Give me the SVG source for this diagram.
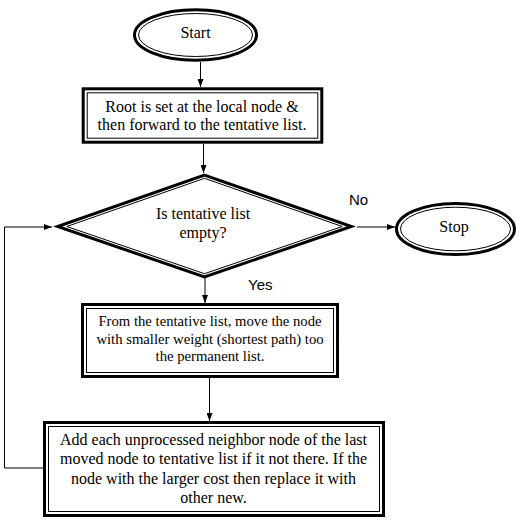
<svg xmlns="http://www.w3.org/2000/svg" width="520" height="521" viewBox="0 0 520 521">
  <defs>
    <style>
      .thick { fill: none; stroke: #000; stroke-width: 3; }
      .thin { fill: none; stroke: #000; stroke-width: 1; }
      .bg { fill: #fff; stroke: none; }
      .t { font-family: "Liberation Serif", "Times New Roman", serif; font-size: 16px; fill: #000; text-anchor: middle; }
      .t2 { font-family: "Liberation Serif", "Times New Roman", serif; font-size: 14.7px; fill: #000; text-anchor: middle; }
      .lbl { font-family: "Liberation Sans", Arial, sans-serif; font-size: 15px; fill: #000; }
      .conn { fill: none; stroke: #000; stroke-width: 1; }
    </style>
    <marker id="arrow" viewBox="0 0 8 6" refX="8" refY="3" markerWidth="8" markerHeight="6" markerUnits="userSpaceOnUse" orient="auto">
      <path d="M0,0 L8,3 L0,6 Z" fill="#000"/>
    </marker>
  </defs>
  <rect x="0" y="0" width="520" height="521" fill="#fff"/>

  <g id="connectors">
    <path class="conn" d="M200.5,62 V87" marker-end="url(#arrow)"/>
    <path class="conn" d="M203.5,144 V173" marker-end="url(#arrow)"/>
    <path class="conn" d="M205,278 V303" marker-end="url(#arrow)"/>
    <path class="conn" d="M209.5,378 V421" marker-end="url(#arrow)"/>
    <path class="conn" d="M357,227 H395" marker-end="url(#arrow)"/>
    <path class="conn" d="M43,468 H4.5 V227 H52" marker-end="url(#arrow)"/>
    <text class="lbl" x="349" y="205">No</text>
    <text class="lbl" x="248" y="290">Yes</text>
  </g>

  <g id="start">
    <ellipse class="bg" cx="195.5" cy="35" rx="61" ry="25.2"/>
    <ellipse class="thick" cx="195.5" cy="35" rx="61" ry="25.2"/>
    <ellipse class="thin" cx="195.5" cy="35" rx="57" ry="21.5"/>
    <text class="t" x="195.5" y="37.5">Start</text>
  </g>

  <g id="root">
    <rect class="bg" x="83.2" y="88.8" width="238.6" height="53.4"/>
    <rect class="thick" x="83.2" y="88.8" width="238.6" height="53.4"/>
    <rect class="thin" x="87.2" y="92.8" width="230.6" height="45.4"/>
    <text class="t" x="202" y="112">Root is set at the local node &amp;</text>
    <text class="t" x="202" y="130">then forward to the tentative list.</text>
  </g>

  <g id="decision">
    <polygon class="bg" points="204.5,175.1 351.4,226.5 204.5,276.9 57.6,226.5"/>
    <polygon class="thick" points="204.5,175.1 351.4,226.5 204.5,276.9 57.6,226.5" stroke-linejoin="miter"/>
    <polygon class="thin" points="204.5,178.3 342.2,226.5 204.5,273.7 66.8,226.5"/>
    <text class="t" x="203" y="218.5">Is tentative list</text>
    <text class="t" x="203" y="237.5">empty?</text>
  </g>

  <g id="stop">
    <ellipse class="bg" cx="455.5" cy="229" rx="59" ry="25.5"/>
    <ellipse class="thick" cx="455.5" cy="229" rx="59" ry="25.5"/>
    <ellipse class="thin" cx="455.5" cy="229" rx="55" ry="21.8"/>
    <text class="t" x="454" y="232">Stop</text>
  </g>

  <g id="move">
    <rect class="bg" x="82.5" y="304.5" width="255" height="72"/>
    <rect class="thick" x="82.5" y="304.5" width="255" height="72"/>
    <rect class="thin" x="86.5" y="308.5" width="247" height="64"/>
    <text class="t2" x="210" y="326">From the tentative list, move the node</text>
    <text class="t2" x="210" y="343.5">with smaller weight (shortest path) too</text>
    <text class="t2" x="210" y="361">the permanent list.</text>
  </g>

  <g id="add">
    <rect class="bg" x="44.5" y="422.5" width="339" height="93"/>
    <rect class="thick" x="44.5" y="422.5" width="339" height="93"/>
    <rect class="thin" x="48.5" y="426.5" width="331" height="85"/>
    <text class="t" x="213.5" y="444.5">Add each unprocessed neighbor node of the last</text>
    <text class="t" x="213.5" y="464">moved node to tentative list if it not there. If the</text>
    <text class="t" x="213.5" y="483.5">node with the larger cost then replace it with</text>
    <text class="t" x="213.5" y="503">other new.</text>
  </g>
</svg>
